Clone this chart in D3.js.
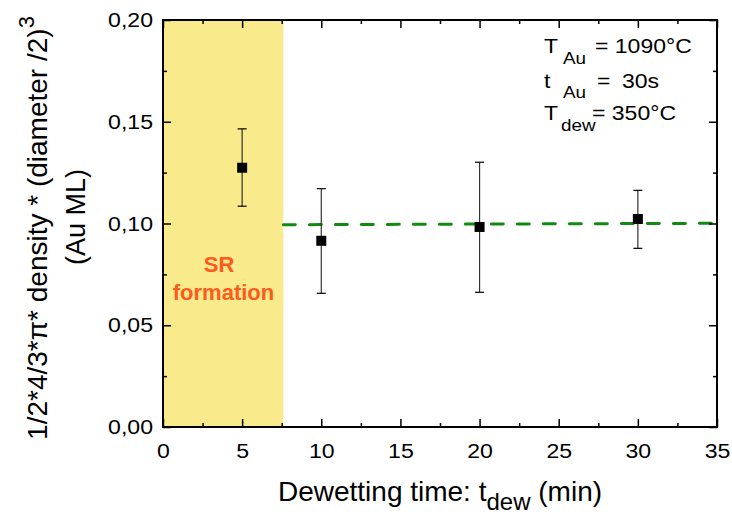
<!DOCTYPE html>
<html><head><meta charset="utf-8">
<script src="https://cdn.jsdelivr.net/npm/d3@7"></script>
<style>body{margin:0;background:#fff}svg{display:block;font-family:Arial,"Liberation Sans",sans-serif}</style>
</head><body><svg id="c" width="732" height="515"></svg>
<script>
const times = [5, 10, 20, 30];
const values = [0.1274, 0.0915, 0.0983, 0.1022];
const errLow = [0.1085, 0.0657, 0.0662, 0.0878];
const errHigh = [0.1465, 0.1171, 0.1301, 0.1163];
const fitX = [7.6, 35];
const fitY = [0.0994, 0.1001];
const bandX = [0, 7.6];
const xTicks = [0, 5, 10, 15, 20, 25, 30, 35];
const yTicks = [0, 0.05, 0.10, 0.15, 0.20];

const L = 163, R = 717, T = 20, B = 427;
const SX = 1.1;
const svg = d3.select("#c");
const x = d3.scaleLinear().domain([0, 35]).range([L, R]);
const y = d3.scaleLinear().domain([0, 0.2]).range([B, T]);

// band
svg.append("rect").attr("x", x(bandX[0])).attr("y", T)
  .attr("width", x(bandX[1]) - x(bandX[0])).attr("height", B - T)
  .attr("fill", "#f9eb8b");

svg.append("text").attr("x", 219).attr("y", 272).attr("text-anchor", "middle")
  .attr("font-size", 22).attr("font-weight", "bold").attr("fill", "#ff5a1e").text("SR");
svg.append("text").attr("x", 223.5).attr("y", 300).attr("text-anchor", "middle")
  .attr("font-size", 22).attr("font-weight", "bold").attr("fill", "#ff5a1e").text("formation");

// fit line
svg.append("line").attr("x1", x(fitX[0])).attr("x2", x(fitX[1]))
  .attr("y1", y(fitY[0])).attr("y2", y(fitY[1]))
  .attr("stroke", "#118a11").attr("stroke-width", 3)
  .attr("stroke-dasharray", "12,14").attr("stroke-linecap", "round");

// axes
const fmt = d => d3.format(".2f")(d).replace(".", ",");
const minorX = d3.range(2.5, 35, 5);
const minorY = d3.range(0.025, 0.2, 0.05);
function styleAxis(g) {
  g.select(".domain").remove();
  g.selectAll("line").attr("stroke", "#000").attr("stroke-width", 1.5);
  g.selectAll("text").attr("font-size", 21).attr("fill", "#000")
    .attr("font-family", "Arial, 'Liberation Sans', sans-serif")
    .attr("transform", `scale(${SX},1)`);
}
svg.append("g").attr("transform", `translate(0,${B})`)
  .call(d3.axisBottom(x).tickValues(xTicks).tickSize(-8).tickPadding(16)).call(styleAxis);
svg.append("g").attr("transform", `translate(0,${B})`)
  .call(d3.axisBottom(x).tickValues(minorX).tickSize(-4).tickFormat("")).call(styleAxis);
svg.append("g").attr("transform", `translate(0,${T})`)
  .call(d3.axisTop(x).tickValues(xTicks).tickSize(-8).tickFormat("")).call(styleAxis);
svg.append("g").attr("transform", `translate(0,${T})`)
  .call(d3.axisTop(x).tickValues(minorX).tickSize(-4).tickFormat("")).call(styleAxis);
svg.append("g").attr("transform", `translate(${L},0)`)
  .call(d3.axisLeft(y).tickValues(yTicks).tickSize(-8).tickPadding(10).tickFormat(fmt)).call(styleAxis)
  .selectAll("text").attr("x", -10 / SX);
svg.append("g").attr("transform", `translate(${L},0)`)
  .call(d3.axisLeft(y).tickValues(minorY).tickSize(-4).tickFormat("")).call(styleAxis);
svg.append("g").attr("transform", `translate(${R},0)`)
  .call(d3.axisRight(y).tickValues(yTicks).tickSize(-8).tickFormat("")).call(styleAxis);
svg.append("g").attr("transform", `translate(${R},0)`)
  .call(d3.axisRight(y).tickValues(minorY).tickSize(-4).tickFormat("")).call(styleAxis);

svg.append("rect").attr("x", L).attr("y", T).attr("width", R - L).attr("height", B - T)
  .attr("fill", "none").attr("stroke", "#000").attr("stroke-width", 2);

// error bars
const pts = times.map((t, i) => ({t, v: values[i], lo: errLow[i], hi: errHigh[i]}));
const eb = svg.append("g");
pts.forEach(p => {
  eb.append("line").attr("x1", x(p.t)).attr("x2", x(p.t)).attr("y1", y(p.lo)).attr("y2", y(p.hi))
    .attr("stroke", "#333").attr("stroke-width", 1.2);
  [p.lo, p.hi].forEach(e => eb.append("line").attr("x1", x(p.t) - 4.5).attr("x2", x(p.t) + 4.5)
    .attr("y1", y(e)).attr("y2", y(e)).attr("stroke", "#000").attr("stroke-width", 1.2));
});
svg.append("g").selectAll("rect").data(pts).join("rect")
  .attr("x", d => x(d.t) - 5).attr("y", d => y(d.v) - 5).attr("width", 10).attr("height", 10)
  .attr("fill", "#000");

// annotation
const ann = svg.append("g").attr("fill", "#000");
function at(px, py, size, txt) {
  ann.append("text").attr("transform", `translate(${px},${py}) scale(1.18,1)`)
    .attr("font-size", size).text(txt);
}
at(544, 53, 19.5, "T");  at(563, 64, 16, "Au");  at(595, 53, 19.5, "= 1090°C");
at(544, 88, 19.5, "t");  at(563, 98, 16, "Au");  at(597, 88, 19.5, "=");  at(622, 88, 19.5, "30s");
at(544, 120, 19.5, "T"); at(561, 131, 16, "dew"); at(592, 120, 19.5, "= 350°C");

// axis titles
const xt = svg.append("text").attr("x", 440).attr("y", 501).attr("text-anchor", "middle").attr("font-size", 28);
xt.append("tspan").text("Dewetting time: t");
xt.append("tspan").attr("dy", 9).attr("font-size", 24).text("dew");
xt.append("tspan").attr("dy", -9).text(" (min)");

const yt = svg.append("text").attr("transform", `translate(47,228) rotate(-90)`)
  .attr("text-anchor", "middle").attr("font-size", 28);
yt.append("tspan").text("1/2*4/3*π* density * (diameter /2)");
yt.append("tspan").attr("dy", -13).attr("font-size", 22).text("3");
svg.append("text").attr("transform", `translate(85,217) rotate(-90)`)
  .attr("text-anchor", "middle").attr("font-size", 27).text("(Au ML)");
</script></body></html>
